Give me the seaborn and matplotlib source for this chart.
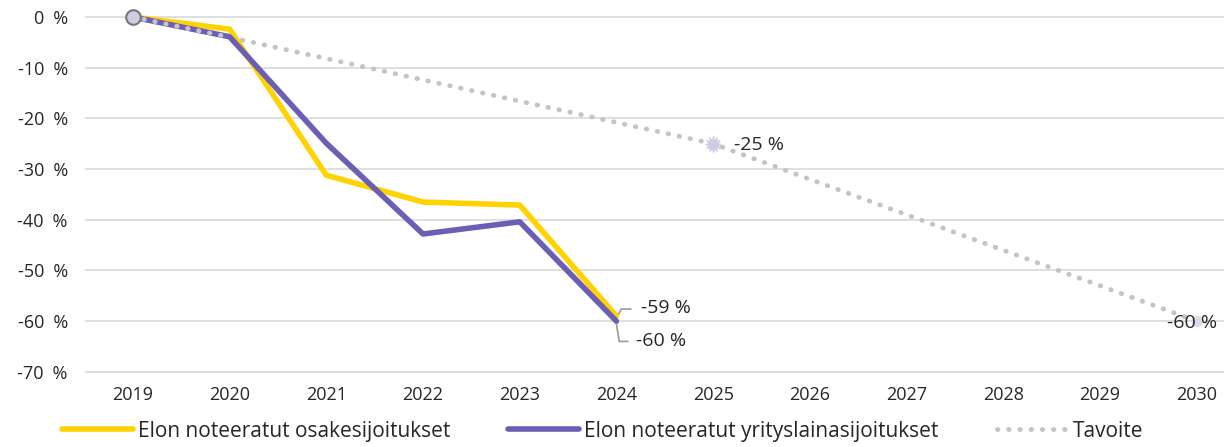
import pandas as pd
import seaborn as sns
import matplotlib.pyplot as plt
import numpy as np

# 數據
years = ['2019', '2020', '2021', '2022', '2023', '2024', '2025', '2026', '2027', '2028', '2029', '2030']
osake = [0, -2.4, -31.2, -36.5, -37.1, -59]
laina = [0, -3.9, -24.9, -42.8, -40.4, -60]
tavoite = [0, -4, -8.2, -12.4, -16.6, -20.8, -25, -32, -39, -46, -53, -60]
yticks = [0, -10, -20, -30, -40, -50, -60, -70]

sns.set_theme(style='white')
plt.rcParams['font.family'] = ['Open Sans', 'DejaVu Sans']

fig = plt.figure(figsize=(12.25, 4.47), dpi=100)
ax = fig.add_axes([0.069, 0.1454, 0.93, 0.8336])

df = pd.DataFrame({'year': years[:len(osake)], 'osake': osake, 'laina': laina})
dt = pd.DataFrame({'year': years, 'tavoite': tavoite})

x_all = np.arange(len(years))
ax.plot(x_all, dt['tavoite'], color='#c4c4c4', lw=3.5, ls=(0, (0.1, 2.2)),
        dash_capstyle='round', label='Tavoite', zorder=2)
ax.plot(np.arange(len(osake)), df['osake'], color='#ffd200', lw=4,
        label='Elon noteeratut osakesijoitukset', zorder=3)
ax.plot(np.arange(len(laina)), df['laina'], color='#6b5fb5', lw=4,
        label='Elon noteeratut yrityslainasijoitukset', zorder=4)
# pisteviiva uudelleen 2019-2020 päälle
ax.plot(x_all[:2], tavoite[:2], color='#c4c4c4', lw=3.5, ls=(0, (0.1, 2.2)),
        dash_capstyle='round', zorder=5)

ax.scatter([0], [0], s=110, color='#cfcde3', edgecolor='#777777', linewidth=1.5, zorder=6)
ax.scatter([6], [-25], s=120, marker=(12, 1, 0), color='#cfcde3', zorder=6)
ax.scatter([11], [-60], s=50, marker='o', color='#dcdbe9', zorder=6)

# arvot
ax.text(6.22, -25.3, '-25 %', fontsize=14, va='center', ha='left')
ax.text(10.95, -60.3, '-60 %', fontsize=14, va='center', ha='center', zorder=7)
ax.plot([5.0, 5.05, 5.15], [-59.4, -57.6, -57.6], color='#999999', lw=1.2)
ax.text(5.25, -57.5, '-59 %', fontsize=14, va='center', ha='left')
ax.plot([5.0, 5.03, 5.12], [-60.6, -64.0, -64.0], color='#999999', lw=1.2)
ax.text(5.2, -64.0, '-60 %', fontsize=14, va='center', ha='left')

ax.set_xticks(x_all)
ax.set_xticklabels(years, fontsize=13)
ax.set_yticks(yticks)
ax.set_yticklabels([f'{v}\u2002%' for v in yticks], fontsize=13)
ax.set_xlim(-0.5, 11.28)
ax.set_ylim(-72, 1.5)
ax.yaxis.grid(True, color='#d9d9d9', lw=1.2)
ax.tick_params(axis='x', length=0, pad=3)
ax.tick_params(axis='y', length=0, pad=12)
sns.despine(ax=ax, left=True, bottom=True)
for l in ax.lines:
    l.set_clip_on(False)

handles, labels = ax.get_legend_handles_labels()
order = [1, 2, 0]
leg = fig.legend([handles[i] for i in order], [labels[i] for i in order],
                 loc='lower center', bbox_to_anchor=(0.492, -0.03), ncol=3, frameon=False,
                 prop={'size': 15},
                 handlelength=3.4, handletextpad=0.25, columnspacing=2.8)

plt.savefig('out.png', dpi=100)
